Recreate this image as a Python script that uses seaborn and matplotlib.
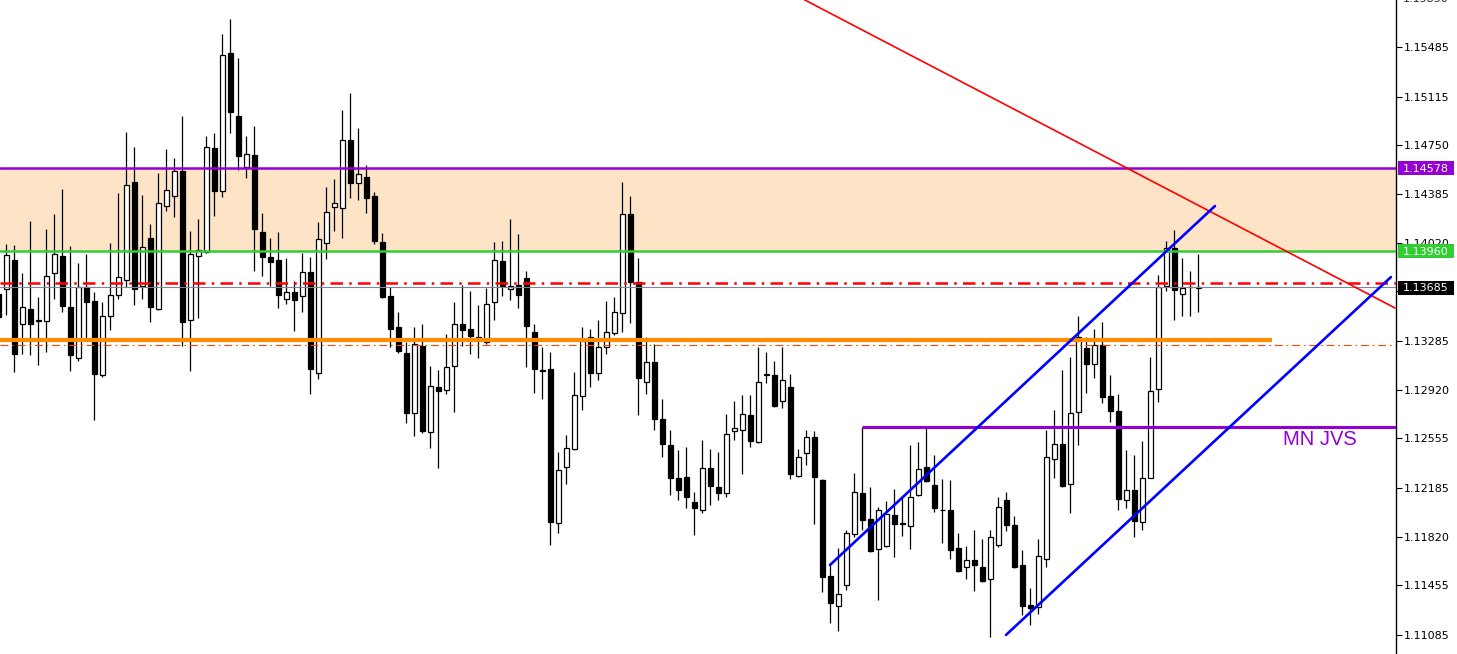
import numpy as np
import pandas as pd
import matplotlib.pyplot as plt
import seaborn as sns
from matplotlib.patches import Rectangle
from matplotlib.transforms import blended_transform_factory

# VELAS (de izquierda a derecha, la primera queda cortada en el borde)
opens = [1.13638, 1.13673, 1.13894, 1.13411, 1.13523, 1.13445, 1.13432, 1.13791, 1.13922, 1.13539,
         1.13155, 1.13685, 1.13585, 1.13030, 1.13473, 1.13629, 1.13738, 1.14478, 1.13695, 1.14056,
         1.13523, 1.14297, 1.14368, 1.14559, 1.13442, 1.13922, 1.13950, 1.14730, 1.14406, 1.15442,
         1.14971, 1.14590, 1.14677, 1.14103, 1.13916, 1.13894, 1.13598, 1.13654, 1.13620, 1.13804,
         1.13046, 1.14016, 1.14287, 1.14278, 1.14790, 1.14465, 1.14515, 1.14372, 1.14028, 1.13623,
         1.13392, 1.13198, 1.12743, 1.13248, 1.12603, 1.12943, 1.12918, 1.13096, 1.13408, 1.13376,
         1.13311, 1.13273, 1.13576, 1.13885, 1.13676, 1.13707, 1.13757, 1.13354, 1.13067, 1.13077,
         1.11922, 1.12340, 1.12478, 1.12874, 1.13311, 1.13042, 1.13242, 1.13342, 1.13495, 1.14237,
         1.13729, 1.12977, 1.13130, 1.12702, 1.12509, 1.12262, 1.12269, 1.12082, 1.12019, 1.12331,
         1.12194, 1.12147, 1.12612, 1.12618, 1.12727, 1.12528, 1.13036, 1.13033, 1.12833, 1.12936,
         1.12272, 1.12447, 1.12568, 1.12247, 1.11526, 1.11302, 1.11458, 1.11838, 1.12144, 1.11954,
         1.11726, 1.11751, 1.11982, 1.11919, 1.11901, 1.12131, 1.12337, 1.12203, 1.12022, 1.12019,
         1.11732, 1.11595, 1.11648, 1.11589, 1.11501, 1.11757, 1.12097, 1.11904, 1.11607, 1.11311,
         1.11289, 1.11654, 1.12403, 1.12512, 1.12213, 1.12755, 1.13233, 1.13114, 1.13255, 1.12874,
         1.12762, 1.12094, 1.12169, 1.11932, 1.12262, 1.12927, 1.13695, 1.13978, 1.13635, 1.13688,
         1.13683]
highs = [1.13660, 1.14013, 1.14003, 1.13794, 1.14184, 1.13617, 1.14125, 1.14237, 1.14425, 1.13997,
         1.13869, 1.13932, 1.13648, 1.13579, 1.14019, 1.14393, 1.14852, 1.14740, 1.14378, 1.14163,
         1.14543, 1.14724, 1.14656, 1.14971, 1.14110, 1.14194, 1.14821, 1.14843, 1.15582, 1.15694,
         1.15404, 1.14821, 1.14896, 1.14244, 1.14056, 1.14103, 1.13907, 1.13732, 1.13944, 1.13916,
         1.14178, 1.14440, 1.14500, 1.15014, 1.15142, 1.14880, 1.14602, 1.14403, 1.14094, 1.13685,
         1.13504, 1.13273, 1.13392, 1.13414, 1.13099, 1.13064, 1.13339, 1.13573, 1.13707, 1.13660,
         1.13557, 1.13679, 1.14028, 1.14035, 1.14194, 1.14088, 1.13810, 1.13408, 1.13242, 1.13205,
         1.12456, 1.12584, 1.13049, 1.13386, 1.13376, 1.13445, 1.13585, 1.13617, 1.14478, 1.14372,
         1.13907, 1.13317, 1.13258, 1.12852, 1.12615, 1.12465, 1.12493, 1.12156, 1.12546, 1.12472,
         1.12456, 1.12740, 1.12837, 1.12883, 1.12877, 1.13236, 1.13202, 1.13136, 1.13236, 1.13039,
         1.12472, 1.12621, 1.12612, 1.12253, 1.11610, 1.11735, 1.11866, 1.12294, 1.12643, 1.12188,
         1.12041, 1.12085, 1.12178, 1.12125, 1.12509, 1.12531, 1.12634, 1.12431, 1.12250, 1.12244,
         1.11844, 1.11751, 1.11869, 1.11798, 1.11866, 1.12119, 1.12150, 1.11975, 1.11720, 1.11433,
         1.11798, 1.12621, 1.12771, 1.13067, 1.13161, 1.13473, 1.13311, 1.13373, 1.13429, 1.13030,
         1.12886, 1.12465, 1.12428, 1.12537, 1.13167, 1.13779, 1.14035, 1.14119, 1.13907, 1.13810,
         1.13932]
lows = [1.12849, 1.13482, 1.13052, 1.13186, 1.13177, 1.13102, 1.13202, 1.13598, 1.13501, 1.13058,
        1.13136, 1.13295, 1.12693, 1.13014, 1.13364, 1.13598, 1.13691, 1.13551, 1.13598, 1.13426,
        1.13514, 1.14256, 1.14209, 1.13245, 1.13058, 1.13454, 1.13944, 1.14219, 1.14359, 1.14840,
        1.14562, 1.14503, 1.13810, 1.13769, 1.13695, 1.13529, 1.13560, 1.13358, 1.13501, 1.12886,
        1.12999, 1.13897, 1.14106, 1.14053, 1.14353, 1.14337, 1.14241, 1.14010, 1.13604, 1.13242,
        1.13198, 1.12668, 1.12571, 1.12593, 1.12481, 1.12334, 1.12886, 1.12752, 1.13245, 1.13186,
        1.13155, 1.13264, 1.13445, 1.13620, 1.13588, 1.13529, 1.13089, 1.12893, 1.12849, 1.11757,
        1.11848, 1.12213, 1.12468, 1.12768, 1.12936, 1.12989, 1.13186, 1.13326, 1.13348, 1.13417,
        1.12727, 1.12886, 1.12621, 1.12415, 1.12131, 1.12094, 1.12032, 1.11832, 1.11997, 1.12053,
        1.12094, 1.12113, 1.12540, 1.12287, 1.12487, 1.12521, 1.12968, 1.12790, 1.12780, 1.12250,
        1.12266, 1.12353, 1.11913, 1.11401, 1.11174, 1.11114, 1.11420, 1.11813, 1.11869, 1.11701,
        1.11345, 1.11745, 1.11663, 1.11823, 1.11726, 1.12125, 1.12225, 1.12000, 1.11770, 1.11651,
        1.11551, 1.11501, 1.11414, 1.11479, 1.11064, 1.11741, 1.11863, 1.11582, 1.11230, 1.11158,
        1.11242, 1.11589, 1.12259, 1.12194, 1.11994, 1.12509, 1.12893, 1.13005, 1.12818, 1.12681,
        1.12019, 1.12032, 1.11813, 1.11869, 1.12256, 1.12827, 1.13660, 1.13439, 1.13470, 1.13470,
        1.13504]
closes = [1.13467, 1.13929, 1.13186, 1.13539, 1.13411, 1.13432, 1.13773, 1.13938, 1.13545, 1.13177,
          1.13691, 1.13576, 1.13036, 1.13473, 1.13632, 1.13766, 1.14453, 1.13673, 1.13988, 1.13539,
          1.14319, 1.14412, 1.14559, 1.13426, 1.13938, 1.13966, 1.14737, 1.14406, 1.15426, 1.14996,
          1.14668, 1.14684, 1.14122, 1.13910, 1.13872, 1.13626, 1.13654, 1.13588, 1.13801, 1.13071,
          1.14050, 1.14250, 1.14319, 1.14790, 1.14471, 1.14534, 1.14353, 1.14035, 1.13613, 1.13373,
          1.13208, 1.12743, 1.13264, 1.12609, 1.12949, 1.12911, 1.13092, 1.13408, 1.13364, 1.13320,
          1.13305, 1.13564, 1.13894, 1.13695, 1.13698, 1.13626, 1.13395, 1.13071, 1.13061, 1.11929,
          1.12315, 1.12484, 1.12877, 1.13286, 1.13042, 1.13242, 1.13348, 1.13498, 1.14237, 1.13729,
          1.13005, 1.13130, 1.12699, 1.12512, 1.12259, 1.12169, 1.12116, 1.12035, 1.12331, 1.12197,
          1.12147, 1.12590, 1.12631, 1.12737, 1.12534, 1.12980, 1.13030, 1.12796, 1.12989, 1.12287,
          1.12412, 1.12568, 1.12266, 1.11517, 1.11323, 1.11386, 1.11844, 1.12150, 1.11944, 1.11713,
          1.12016, 1.11985, 1.11913, 1.11913, 1.12119, 1.12328, 1.12234, 1.12035, 1.12016, 1.11720,
          1.11564, 1.11648, 1.11607, 1.11489, 1.11819, 1.12044, 1.11907, 1.11589, 1.11302, 1.11283,
          1.11676, 1.12412, 1.12512, 1.12197, 1.12746, 1.13317, 1.13114, 1.13255, 1.12868, 1.12762,
          1.12100, 1.12169, 1.11938, 1.12259, 1.12911, 1.13691, 1.13978, 1.13666, 1.13682, 1.13685,
          1.13685]

# NIVELES HORIZONTALES
zona_arriba = 1.14578
zona_abajo = 1.13960
nivel_dashdot = 1.13722
precio_actual = 1.13685
nivel_naranja = 1.13289
nivel_fino = 1.13254
nivel_mn_jvs = 1.12643

# LINEAS DE TENDENCIA (indice de vela, precio)
roja_x = [100.8, 174.6]
roja_y = [1.15838, 1.13531]
azul_arriba_x = [103.96, 152.08]
azul_arriba_y = [1.11607, 1.14295]
azul_abajo_x = [125.96, 174.08]
azul_abajo_y = [1.11083, 1.13763]
naranja_fin = 159.2
mn_jvs_inicio = 108

# EJE DE PRECIOS
ticks = [1.15485, 1.15115, 1.14750, 1.14385, 1.14020, 1.13655, 1.13285,
         1.12920, 1.12555, 1.12185, 1.11820, 1.11455, 1.11085]
tick_cortado = 1.15850
etiquetas = [(zona_arriba, "#9400D3"), (zona_abajo, "#32CD32"), (precio_actual, "black")]

sns.set_style("white")
plt.rcParams['font.family'] = ['DejaVu Sans']

velas = pd.DataFrame({"open": opens, "high": highs, "low": lows, "close": closes})
velas["x"] = np.arange(len(velas))
alcistas = velas["close"] > velas["open"]

fig = plt.figure(figsize=(14.57, 6.54), dpi=100)
ax = fig.add_axes([0, 0, 1396 / 1457, 1])

# Zona sombreada y lineas
ax.axhspan(zona_abajo, zona_arriba, color="#FDE4C6", lw=0, zorder=0)
ax.axhline(zona_arriba, color="#9400D3", lw=1.8, zorder=5)
ax.axhline(zona_abajo, color="#32CD32", lw=1.8, zorder=5)
ax.axhline(nivel_dashdot, color="red", lw=1.8, dashes=(5, 2.5, 1, 2.5), zorder=5)
ax.axhline(precio_actual, color="#778899", lw=0.8, zorder=5)
ax.axhline(nivel_fino, color="#FF4500", lw=0.8, dashes=(7, 3.5, 1.5, 3.5), zorder=5)
ax.hlines(nivel_naranja, -5, naranja_fin, color="#FF8C00", lw=3, zorder=5)
ax.hlines(nivel_mn_jvs, mn_jvs_inicio, 200, color="#9400D3", lw=2.2, zorder=5)

# Velas
ax.vlines(velas["x"], velas["low"], velas["high"], color="black", lw=0.9, zorder=3)
ax.bar(velas["x"], velas["close"] - velas["open"], bottom=velas["open"], width=0.6,
       color=np.where(alcistas, "white", "black"), edgecolor="black", linewidth=0.9, zorder=4)

# Tendencias
sns.lineplot(x=roja_x, y=roja_y, ax=ax, color="red", lw=1.2, zorder=6)
sns.lineplot(x=azul_arriba_x, y=azul_arriba_y, ax=ax, color="#0000FF", lw=1.9, zorder=6)
sns.lineplot(x=azul_abajo_x, y=azul_abajo_y, ax=ax, color="#0000FF", lw=1.9, zorder=6)

ax.text(160.6, 1.12543, "MN JVS", color="#9400D3", fontsize=14.5,
        family="Liberation Sans", va="center", ha="left", zorder=7)

ax.set_xlim(0.21, 174.71)
ax.set_ylim(1.109404, 1.158376)

# Eje
for lado in ["top", "left", "bottom"]:
    ax.spines[lado].set_visible(False)
ax.spines["right"].set_color("black")
ax.spines["right"].set_linewidth(1)
ax.set_xticks([])
ax.yaxis.tick_right()
ax.set_yticks(ticks)
ax.set_yticklabels([f"{t:.5f}" for t in ticks])
ax.tick_params(axis="y", direction="out", length=4, width=0.8, pad=1.5, labelsize=8, colors="black")

trans = blended_transform_factory(ax.transAxes, ax.transData)
ax.text(1.0052, tick_cortado, f"{tick_cortado:.5f}", transform=trans, fontsize=8,
        va="center_baseline", ha="left", clip_on=False)
for valor, fondo in etiquetas:
    ax.add_patch(Rectangle((1.0014, valor - 0.00053), 0.0401, 0.00105, transform=trans,
                           facecolor=fondo, edgecolor="none", clip_on=False, zorder=9))
    ax.text(1.0052, valor, f"{valor:.5f}", transform=trans, color="white", fontsize=8,
            va="center_baseline", ha="left", clip_on=False, zorder=10)

plt.savefig("out.png", dpi=100)
